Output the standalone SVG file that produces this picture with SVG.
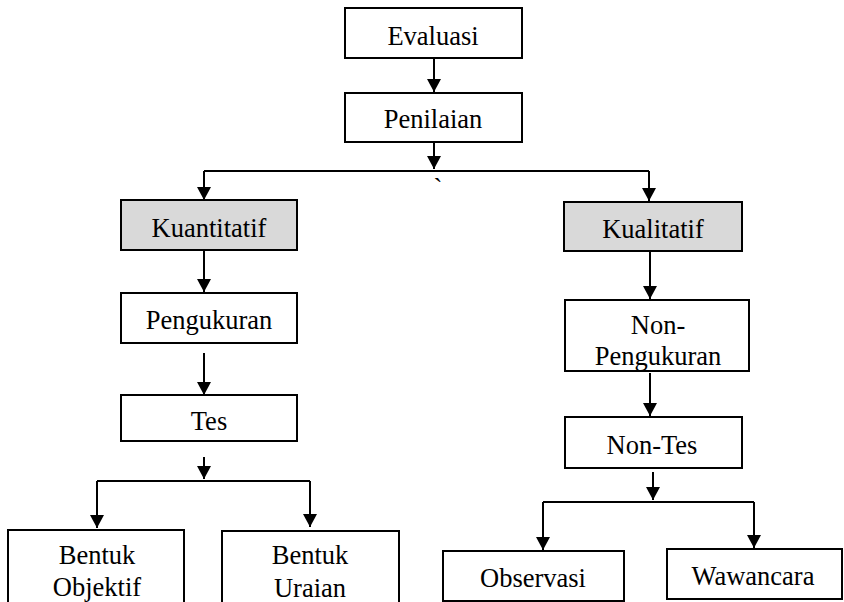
<svg xmlns="http://www.w3.org/2000/svg" width="844" height="602" viewBox="0 0 844 602">
<style>
.box{fill:#fff;stroke:#000;stroke-width:2}
.grey{fill:#d9d9d9;stroke:#000;stroke-width:2}
.t{font-family:"Liberation Serif","Times New Roman",serif;font-size:26.5px;fill:#000;text-anchor:middle}
.c{fill:none;stroke:#000;stroke-width:2}
</style>
<defs>
<marker id="ah" markerUnits="userSpaceOnUse" markerWidth="14" markerHeight="14" refX="13" refY="7" orient="auto">
<path d="M0,0 L13,7 L0,14 z" fill="#000"/>
</marker>
</defs>
<rect width="844" height="602" fill="#fff"/>
<g id="connectors">
<path class="c" d="M434,58 V92" marker-end="url(#ah)"/>
<path class="c" d="M434,142 V169" marker-end="url(#ah)"/>
<path class="c" d="M204,171 H649"/>
<path class="c" d="M204,171 V200" marker-end="url(#ah)"/>
<path class="c" d="M649,171 V201" marker-end="url(#ah)"/>
<path class="c" d="M204,250 V292" marker-end="url(#ah)"/>
<path class="c" d="M204,353 V395" marker-end="url(#ah)"/>
<path class="c" d="M204,457 V479" marker-end="url(#ah)"/>
<path class="c" d="M97,481 H310"/>
<path class="c" d="M97,481 V528" marker-end="url(#ah)"/>
<path class="c" d="M310,481 V527" marker-end="url(#ah)"/>
<path class="c" d="M650,251 V299" marker-end="url(#ah)"/>
<path class="c" d="M650,373 V416" marker-end="url(#ah)"/>
<path class="c" d="M653,472 V500" marker-end="url(#ah)"/>
<path class="c" d="M543,502 H754"/>
<path class="c" d="M543,502 V550" marker-end="url(#ah)"/>
<path class="c" d="M754,502 V548" marker-end="url(#ah)"/>
</g>
<g id="evaluasi"><rect class="box" x="345" y="8" width="177" height="50"/><text class="t" x="433" y="45">Evaluasi</text></g>
<g id="penilaian"><rect class="box" x="345" y="93" width="177" height="49"/><text class="t" x="433" y="128">Penilaian</text></g>
<g id="tick"><text class="t" x="438" y="197">`</text></g>
<g id="kuantitatif"><rect class="grey" x="121" y="200" width="176" height="50"/><text class="t" x="209" y="237">Kuantitatif</text></g>
<g id="pengukuran"><rect class="box" x="121" y="293" width="176" height="50"/><text class="t" x="209" y="329">Pengukuran</text></g>
<g id="tes"><rect class="box" x="121" y="395" width="176" height="46"/><text class="t" x="209" y="430">Tes</text></g>
<g id="bentuk-objektif"><rect class="box" x="8" y="530" width="176" height="80"/><text class="t" x="97" y="564">Bentuk</text><text class="t" x="97" y="596">Objektif</text></g>
<g id="bentuk-uraian"><rect class="box" x="222" y="531" width="177" height="80"/><text class="t" x="310" y="564">Bentuk</text><text class="t" x="310" y="597">Uraian</text></g>
<g id="kualitatif"><rect class="grey" x="564" y="202" width="178" height="49"/><text class="t" x="653" y="238">Kualitatif</text></g>
<g id="non-pengukuran"><rect class="box" x="565" y="300" width="184" height="71"/><text class="t" x="658" y="334">Non-</text><text class="t" x="658" y="365">Pengukuran</text></g>
<g id="non-tes"><rect class="box" x="565" y="417" width="177" height="51"/><text class="t" x="652" y="454">Non-Tes</text></g>
<g id="observasi"><rect class="box" x="443" y="551" width="181" height="50"/><text class="t" x="533" y="587">Observasi</text></g>
<g id="wawancara"><rect class="box" x="667" y="549" width="175" height="50"/><text class="t" x="753" y="585">Wawancara</text></g>
</svg>
